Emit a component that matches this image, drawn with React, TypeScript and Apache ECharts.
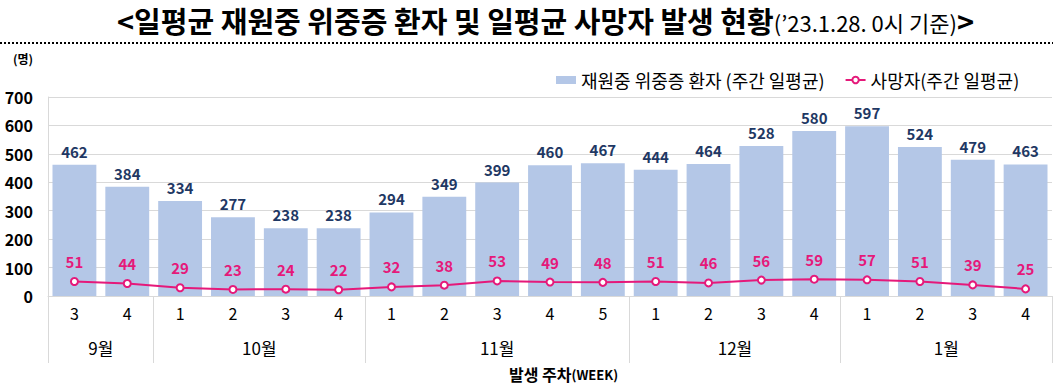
import React, { useEffect, useRef } from "react";
import * as echarts from "echarts";

const weekLabels = ["3", "4", "1", "2", "3", "4", "1", "2", "3", "4", "5", "1", "2", "3", "4", "1", "2", "3", "4"];
const monthLabels = ["9월", "10월", "11월", "12월", "1월"];
const monthWeekCounts = [2, 4, 5, 4, 4];
const severePatients = [462, 384, 334, 277, 238, 238, 294, 349, 399, 460, 467, 444, 464, 528, 580, 597, 524, 479, 463];
const deaths = [51, 44, 29, 23, 24, 22, 32, 38, 53, 49, 48, 51, 46, 56, 59, 57, 51, 39, 25];
const yTicks = { min: 0, max: 700, interval: 100 };

const FONT = "'Noto Sans CJK KR', 'Noto Sans', sans-serif";
const BAR_COLOR = "#B4C7E7";
const LINE_COLOR = "#E5197A";
const NAVY = "#1F3864";
const GRID_COLOR = "#D9D9D9";

export default function App() {
  const ref = useRef<HTMLDivElement>(null);

  useEffect(() => {
    if (!ref.current) return;
    const chart = echarts.init(ref.current, undefined, { renderer: "svg" });

    const boundaries: number[] = [0];
    const centers: number[] = [];
    let acc = 0;
    monthWeekCounts.forEach((c) => {
      centers.push(acc + c / 2);
      acc += c;
      boundaries.push(acc);
    });

    chart.setOption({
      animation: false,
      textStyle: { fontFamily: FONT },
      title: {
        text: "{b|<일평균 재원중 위중증 환자 및 일평균 사망자 발생 현황}{s|(’23.1.28. 0시 기준)}{b|>}",
        left: 112,
        top: 0,
        textStyle: {
          rich: {
            b: { fontFamily: FONT, fontWeight: "bold", fontSize: 29, color: "#000" },
            s: { fontFamily: FONT, fontWeight: "normal", fontSize: 22, color: "#000", padding: [5, 0, 0, 0] },
          },
        },
      },
      legend: {
        top: 66,
        left: 551,
        itemGap: 20,
        textStyle: { fontFamily: FONT, fontSize: 18, color: "#000" },
        data: [
          { name: "재원중 위중증 환자 (주간 일평균)", icon: "rect", itemStyle: { color: BAR_COLOR } },
          { name: "사망자(주간 일평균)" },
        ],
        itemWidth: 20,
        itemHeight: 8,
      },
      grid: { left: 48, right: 1, top: 97, bottom: 93 },
      xAxis: [
        {
          type: "category",
          data: weekLabels,
          axisLine: { show: true, lineStyle: { color: GRID_COLOR } },
          axisTick: { show: false },
          axisLabel: { fontFamily: FONT, fontSize: 16, color: "#000", margin: 9 },
        },
        {
          type: "value",
          min: 0,
          max: weekLabels.length,
          position: "bottom",
          axisLine: { show: false },
          splitLine: { show: false },
          axisTick: {
            show: true,
            customValues: boundaries,
            length: 67,
            lineStyle: { color: GRID_COLOR },
          },
          axisLabel: {
            show: true,
            customValues: centers,
            margin: 43,
            fontFamily: FONT,
            fontSize: 17,
            color: "#000",
            formatter: (v: number) => {
              const i = centers.findIndex((c) => Math.abs(c - v) < 1e-6);
              return i >= 0 ? monthLabels[i] : "";
            },
          },
        },
      ],
      yAxis: {
        type: "value",
        min: yTicks.min,
        max: yTicks.max,
        interval: yTicks.interval,
        axisLine: { show: true, lineStyle: { color: GRID_COLOR } },
        axisTick: { show: false },
        splitLine: { lineStyle: { color: GRID_COLOR } },
        axisLabel: { fontFamily: FONT, fontSize: 16, fontWeight: "bold", color: "#000", margin: 15 },
      },
      series: [
        {
          name: "재원중 위중증 환자 (주간 일평균)",
          type: "bar",
          data: severePatients,
          barCategoryGap: "17%",
          itemStyle: { color: BAR_COLOR },
          label: {
            show: true,
            position: "top",
            distance: 6,
            fontFamily: FONT,
            fontSize: 15,
            fontWeight: "bold",
            color: NAVY,
          },
        },
        {
          name: "사망자(주간 일평균)",
          type: "line",
          data: deaths,
          symbol: "circle",
          symbolSize: 7,
          lineStyle: { color: LINE_COLOR, width: 2 },
          itemStyle: { color: "#fff", borderColor: LINE_COLOR, borderWidth: 2 },
          label: {
            show: true,
            position: "top",
            distance: 8,
            fontFamily: FONT,
            fontSize: 15,
            fontWeight: "bold",
            color: LINE_COLOR,
          },
        },
      ],
      graphic: [
        {
          type: "line",
          shape: { x1: 0, y1: 43, x2: 1053, y2: 43 },
          style: { stroke: "#000", lineWidth: 2, lineDash: [2, 2] },
        },
        {
          type: "text",
          left: 13,
          top: 52,
          style: { text: "(명)", font: `bold 12px ${FONT}`, fill: "#000" },
        },
        {
          type: "text",
          left: 509,
          top: 366,
          style: {
            text: "{a|발생 주차}{c|(WEEK)}",
            rich: {
              a: { fontFamily: FONT, fontWeight: "bold", fontSize: 16, fill: "#000" },
              c: { fontFamily: FONT, fontWeight: "bold", fontSize: 13, fill: "#000" },
            },
          },
        },
      ],
    });

    return () => chart.dispose();
  }, []);

  return (
    <div
      ref={ref}
      style={{ position: "absolute", left: 0, top: 0, width: 1053, height: 389, background: "#fff" }}
    />
  );
}
